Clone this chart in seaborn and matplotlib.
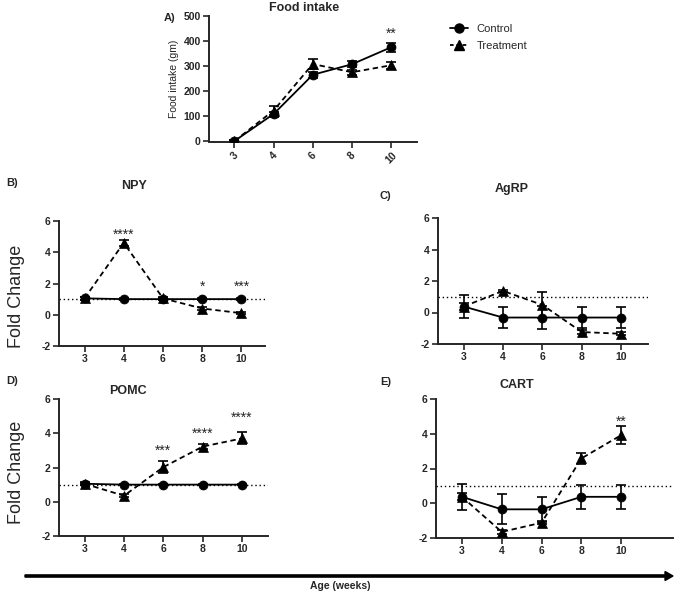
import matplotlib
matplotlib.use("Agg")
import matplotlib.pyplot as plt
from matplotlib.lines import Line2D
import numpy as np
import pandas as pd
import seaborn as sns

sns.set_style("ticks")
plt.rcParams['font.family'] = ['Liberation Sans', 'DejaVu Sans']
plt.rcParams['axes.unicode_minus'] = False

weeks = ["3", "4", "6", "8", "10"]

#-- Food intake (gm)
food_ctrl = [0, 108, 265, 307, 375]
food_ctrl_err = [3, 10, 12, 12, 17]
food_trt = [0, 122, 308, 275, 303]
food_trt_err = [3, 18, 20, 10, 15]

#-- Fold change per gene
npy_ctrl = [1.05, 1.0, 1.0, 1.0, 1.0]
npy_ctrl_err = [0.08, 0.05, 0.05, 0.05, 0.05]
npy_trt = [1.05, 4.6, 1.05, 0.4, 0.1]
npy_trt_err = [0.1, 0.2, 0.1, 0.1, 0.05]

agrp_ctrl = [0.38, -0.32, -0.32, -0.32, -0.32]
agrp_ctrl_err = [0.7, 0.68, 0.75, 0.68, 0.68]
agrp_trt = [0.38, 1.37, 0.48, -1.24, -1.35]
agrp_trt_err = [0.2, 0.08, 0.85, 0.1, 0.1]

pomc_ctrl = [1.05, 1.0, 1.0, 1.0, 1.0]
pomc_ctrl_err = [0.05, 0.03, 0.03, 0.03, 0.03]
pomc_trt = [1.05, 0.35, 2.02, 3.22, 3.7]
pomc_trt_err = [0.1, 0.1, 0.37, 0.15, 0.35]

cart_ctrl = [0.37, -0.35, -0.35, 0.37, 0.37]
cart_ctrl_err = [0.73, 0.87, 0.72, 0.7, 0.7]
cart_trt = [0.37, -1.65, -1.12, 2.58, 3.92]
cart_trt_err = [0.2, 0.12, 0.1, 0.32, 0.5]

#-- significance marks (week index, y, text)
food_sig = [(4, 430, "**")]
npy_sig = [(1, 5.1, "****"), (3, 1.8, "*"), (4, 1.8, "***")]
agrp_sig = []
pomc_sig = [(2, 2.95, "***"), (3, 3.95, "****"), (4, 4.9, "****")]
cart_sig = [(4, 4.7, "**")]

fig = plt.figure(figsize=(6.76, 5.95), dpi=100)
W, H = 676, 595


def box(l, t, r, b):
    return [l / W, 1 - b / H, (r - l) / W, (b - t) / H]


def draw(ax, ctrl, ctrl_err, trt, trt_err, sig, xmax, ylim, yticks, refline=True):
    pos = np.arange(len(weeks))
    df = pd.DataFrame({"pos": np.concatenate([pos, pos]),
                       "val": ctrl + trt,
                       "group": ["Control"] * len(pos) + ["Treatment"] * len(pos)})
    if refline:
        ax.axhline(1, color="black", ls=(0, (1, 2)), lw=1, zorder=1)
    sns.lineplot(data=df[df.group == "Control"], x="pos", y="val", ax=ax, color="black",
                 marker="o", markersize=6.5, markeredgecolor="black", markeredgewidth=0.5,
                 lw=1.3, zorder=3)
    sns.lineplot(data=df[df.group == "Treatment"], x="pos", y="val", ax=ax, color="black",
                 marker="^", markersize=7, markeredgecolor="black", markeredgewidth=0.5,
                 lw=1.3, ls=(0, (3, 2)), zorder=3)
    ax.errorbar(pos, ctrl, yerr=ctrl_err, fmt="none", ecolor="black", elinewidth=1.2,
                capsize=3.5, capthick=1.2, zorder=2)
    ax.errorbar(pos, trt, yerr=trt_err, fmt="none", ecolor="black", elinewidth=1.2,
                capsize=3.5, capthick=1.2, zorder=2)
    for i, y, s in sig:
        ax.text(i, y, s, ha="center", va="center", fontsize=10)
    ax.set_xlim(-0.65, xmax)
    ax.set_ylim(*ylim)
    ax.set_xticks(pos)
    ax.set_xticklabels(weeks)
    ax.set_yticks(yticks)
    ax.set_xlabel("")
    ax.set_ylabel("")
    sns.despine(ax=ax)
    for sp in ax.spines.values():
        sp.set_linewidth(1.4)
    ax.tick_params(width=1.2, length=4, labelsize=7.5, pad=2)
    for t in ax.get_xticklabels() + ax.get_yticklabels():
        t.set_fontweight("bold")


#-- A) Food intake
axA = fig.add_axes(box(209, 16, 417, 142))
draw(axA, food_ctrl, food_ctrl_err, food_trt, food_trt_err, food_sig, 4.66, (0, 500),
     [0, 100, 200, 300, 400, 500], refline=False)
axA.set_ylim(-4, 500)
axA.spines["left"].set_bounds(0, 500)
for t in axA.get_xticklabels():
    t.set_rotation(45)
axA.set_ylabel("Food intake (gm)", fontsize=7.5, labelpad=3)
fig.text(304 / W, 1 - 8 / H, "Food intake", ha="center", va="center", fontsize=9, fontweight="bold")
fig.text(170 / W, 1 - 18 / H, "A)", ha="center", va="center", fontsize=8, fontweight="bold")
hA = [Line2D([], [], color="black", marker="o", markersize=6.5, lw=1.3),
      Line2D([], [], color="black", marker="^", markersize=7, lw=1.3, ls=(0, (2, 1.5)))]
fig.legend(hA, ["Control", "Treatment"], loc="upper left", bbox_to_anchor=(440 / W, 1 - 14 / H),
           frameon=False, fontsize=8, handlelength=1.6, labelspacing=0.6)

#-- B) NPY
axB = fig.add_axes(box(59, 221, 265, 346))
draw(axB, npy_ctrl, npy_ctrl_err, npy_trt, npy_trt_err, npy_sig, 4.6, (-2, 6), [-2, 0, 2, 4, 6])
fig.text(134 / W, 1 - 186 / H, "NPY", ha="center", va="center", fontsize=9, fontweight="bold")
fig.text(12 / W, 1 - 183 / H, "B)", ha="center", va="center", fontsize=8, fontweight="bold")
fig.text(17 / W, 1 - 296 / H, "Fold Change", rotation=90, ha="center", va="center", fontsize=13)

#-- C) AgRP
axC = fig.add_axes(box(438, 218, 648, 344))
draw(axC, agrp_ctrl, agrp_ctrl_err, agrp_trt, agrp_trt_err, agrp_sig, 4.68, (-2, 6), [-2, 0, 2, 4, 6])
fig.text(512 / W, 1 - 189 / H, "AgRP", ha="center", va="center", fontsize=9, fontweight="bold")
fig.text(385 / W, 1 - 196 / H, "C)", ha="center", va="center", fontsize=8, fontweight="bold")

#-- D) POMC
axD = fig.add_axes(box(59, 399, 268, 536))
draw(axD, pomc_ctrl, pomc_ctrl_err, pomc_trt, pomc_trt_err, pomc_sig, 4.66, (-2, 6), [-2, 0, 2, 4, 6])
fig.text(128 / W, 1 - 391 / H, "POMC", ha="center", va="center", fontsize=9, fontweight="bold")
fig.text(12 / W, 1 - 381 / H, "D)", ha="center", va="center", fontsize=8, fontweight="bold")
fig.text(17 / W, 1 - 472 / H, "Fold Change", rotation=90, ha="center", va="center", fontsize=13)

#-- E) CART
axE = fig.add_axes(box(436, 399, 673, 538))
draw(axE, cart_ctrl, cart_ctrl_err, cart_trt, cart_trt_err, cart_sig, 5.3, (-2, 6), [-2, 0, 2, 4, 6])
fig.text(517 / W, 1 - 385 / H, "CART", ha="center", va="center", fontsize=9, fontweight="bold")
fig.text(386 / W, 1 - 382 / H, "E)", ha="center", va="center", fontsize=8, fontweight="bold")

#-- shared age arrow
fig.patches.append(matplotlib.patches.FancyArrow(25 / W, 1 - 576 / H, 648 / W, 0, width=2.2 / H,
                                                 head_width=9 / H, head_length=8 / W,
                                                 length_includes_head=True, color="black",
                                                 transform=fig.transFigure, figure=fig))
fig.text(340 / W, 1 - 586 / H, "Age (weeks)", ha="center", va="center", fontsize=7.5, fontweight="bold")

fig.savefig("out.png", dpi=100)
